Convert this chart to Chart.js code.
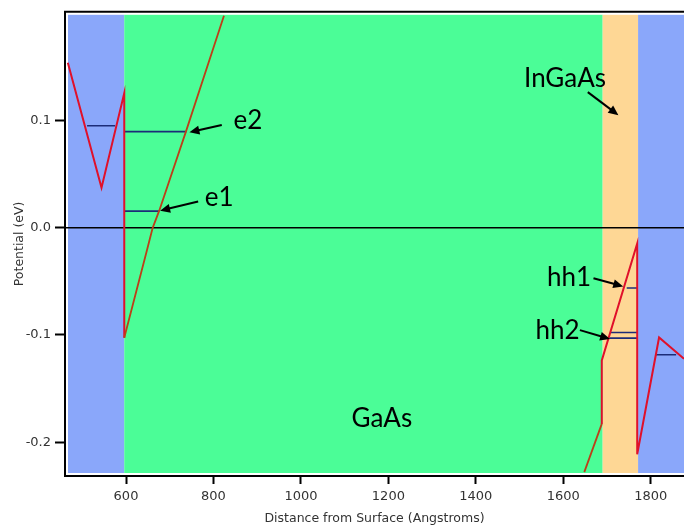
<!DOCTYPE html>
<html>
<head>
<meta charset="utf-8">
<script src="https://cdn.jsdelivr.net/npm/chart.js@4/dist/chart.umd.min.js"></script>
<style>
  html, body { margin: 0; padding: 0; background: #fff; }
  canvas { display: block; }
</style>
</head>
<body>
<canvas id="bandChart" width="684" height="527"></canvas>
<script>
// Potential profile (distance in Angstroms, potential in eV)
const leftBandX = [467, 544, 596, 596, 647, 661, 676, 737, 824];
const leftBandY = [0.154, 0.0375, 0.1257, -0.1026, -0.0224, 0, 0.0160, 0.0898, 0.198];
const rightBandX = [1648, 1688, 1688, 1769, 1769, 1819, 1876];
const rightBandY = [-0.228, -0.183, -0.1238, -0.0147, -0.2113, -0.1023, -0.1222];

// Bound states: energy and the span of each level
const levelY = [0.0953, 0.0898, 0.0156, -0.0562, -0.0977, -0.1029, -0.1185];
const levelStart = [511, 596, 596, 1745, 1709, 1705, 1811];
const levelEnd = [575, 738, 676, 1769, 1769, 1769, 1858];

// Material layers
const layerEdges = [460.5, 596, 1690, 1771, 1876];
const layerNames = ['AlGaAs', 'GaAs', 'InGaAs', 'AlGaAs'];

const xTicks = [600, 800, 1000, 1200, 1400, 1600, 1800];
const yTicks = [-0.2, -0.1, 0.0, 0.1];

const layerColors = { AlGaAs: '#8aa7fa', GaAs: '#4bfd97', InGaAs: '#fed795' };
const red = '#e0102a';
const brown = '#bc3f18';
const navy = '#1c2c78';

// Text labels with optional arrows, placed in data coordinates
const notes = [
    { text: 'e2', x: 879, y: 0.1002, from: [819, 0.0959], to: [745, 0.0891] },
    { text: 'e1', x: 813, y: 0.0283, from: [765, 0.0246], to: [678, 0.0160] },
    { text: 'InGaAs', x: 1604, y: 0.1389, from: [1656, 0.1266], to: [1726, 0.1051] },
    { text: 'hh1', x: 1613, y: -0.0464, from: [1669, -0.0470], to: [1737, -0.0547] },
    { text: 'hh2', x: 1587, y: -0.0961, from: [1638, -0.0955], to: [1707, -0.1038] },
    { text: 'GaAs', x: 1185, y: -0.1782 }
];

function points(xs, ys) {
    return xs.map((x, i) => ({ x: x, y: ys[i] }));
}

// sloped segments running through the GaAs layer look darker
function inGaAsLayer(ctx) {
    const x0 = ctx.p0.parsed.x, x1 = ctx.p1.parsed.x;
    if (x0 === x1) return false;
    const mid = (x0 + x1) / 2;
    return mid > layerEdges[1] && mid < layerEdges[2];
}

const bandStyle = {
    showLine: true,
    pointRadius: 0,
    borderColor: red,
    borderWidth: 2,
    order: 1,
    segment: {
        borderColor: ctx => inGaAsLayer(ctx) ? brown : red,
        borderWidth: ctx => inGaAsLayer(ctx) ? 1.8 : 2
    }
};

const datasets = [
    { ...bandStyle, data: points(leftBandX, leftBandY) },
    { ...bandStyle, data: points(rightBandX, rightBandY) }
];
levelY.forEach((y, i) => {
    datasets.push({
        showLine: true,
        pointRadius: 0,
        borderColor: navy,
        borderWidth: 1.6,
        order: 2,
        data: [{ x: levelStart[i], y: y }, { x: levelEnd[i], y: y }]
    });
});

// layers, zero line and top frame behind the curves
const backdrop = {
    id: 'backdrop',
    beforeDatasetsDraw(chart) {
        const { ctx, chartArea: a, scales: { x, y } } = chart;
        const inset = 3;
        ctx.save();
        layerNames.forEach((name, i) => {
            const x0 = Math.max(x.getPixelForValue(layerEdges[i]), a.left + inset);
            const x1 = Math.min(x.getPixelForValue(layerEdges[i + 1]), a.right);
            ctx.fillStyle = layerColors[name];
            ctx.fillRect(x0, a.top + inset, x1 - x0, a.bottom - a.top - 2 * inset);
        });
        ctx.strokeStyle = '#000';
        ctx.lineWidth = 1.5;
        const y0 = y.getPixelForValue(0);
        ctx.beginPath();
        ctx.moveTo(a.left, y0);
        ctx.lineTo(a.right, y0);
        ctx.stroke();
        ctx.lineWidth = 2;
        ctx.beginPath();
        ctx.moveTo(a.left - 1, a.top);
        ctx.lineTo(a.right, a.top);
        ctx.stroke();
        ctx.restore();
    }
};

const labels = {
    id: 'labels',
    afterDatasetsDraw(chart) {
        const { ctx, scales: { x, y } } = chart;
        ctx.save();
        ctx.fillStyle = '#000';
        ctx.strokeStyle = '#000';
        ctx.font = '26px Lato';
        ctx.textAlign = 'center';
        ctx.textBaseline = 'middle';
        notes.forEach(n => {
            ctx.fillText(n.text, x.getPixelForValue(n.x), y.getPixelForValue(n.y));
            if (!n.from) return;
            const sx = x.getPixelForValue(n.from[0]), sy = y.getPixelForValue(n.from[1]);
            const ex = x.getPixelForValue(n.to[0]), ey = y.getPixelForValue(n.to[1]);
            const ang = Math.atan2(ey - sy, ex - sx);
            const head = 10;
            ctx.lineWidth = 2;
            ctx.beginPath();
            ctx.moveTo(sx, sy);
            ctx.lineTo(ex - Math.cos(ang) * head * 0.8, ey - Math.sin(ang) * head * 0.8);
            ctx.stroke();
            ctx.beginPath();
            ctx.moveTo(ex, ey);
            ctx.lineTo(ex - head * Math.cos(ang) + 4.5 * Math.sin(ang), ey - head * Math.sin(ang) - 4.5 * Math.cos(ang));
            ctx.lineTo(ex - head * Math.cos(ang) - 4.5 * Math.sin(ang), ey - head * Math.sin(ang) + 4.5 * Math.cos(ang));
            ctx.closePath();
            ctx.fill();
        });
        ctx.restore();
    }
};

const tickFont = { family: 'DejaVu Sans', size: 13 };
const titleFont = { family: 'DejaVu Sans', size: 12.5 };

new Chart(document.getElementById('bandChart'), {
    type: 'scatter',
    data: { datasets: datasets },
    options: {
        responsive: false,
        animation: false,
        devicePixelRatio: 1,
        layout: { padding: { top: 7, right: 0, left: 0, bottom: 0 } },
        plugins: {
            legend: { display: false },
            tooltip: { enabled: false }
        },
        scales: {
            x: {
                type: 'linear',
                min: 460.5,
                max: 1876,
                afterBuildTicks: scale => { scale.ticks = xTicks.map(v => ({ value: v })); },
                afterFit: scale => { scale.height = 51; },
                ticks: { font: tickFont, color: '#333', padding: 5, autoSkip: false, maxRotation: 0, callback: v => String(v) },
                grid: { drawOnChartArea: false, tickLength: 8, tickColor: '#000', tickWidth: 2 },
                border: { color: '#000', width: 2 },
                title: {
                    display: true,
                    text: 'Distance from Surface (Angstroms)',
                    font: titleFont,
                    color: '#333',
                    padding: { top: 0, bottom: 1 }
                }
            },
            y: {
                min: -0.2316,
                max: 0.2016,
                afterBuildTicks: scale => { scale.ticks = yTicks.map(v => ({ value: v })); },
                afterFit: scale => { scale.width = 65; },
                ticks: { font: tickFont, color: '#333', padding: 4, callback: v => v.toFixed(1) },
                grid: { drawOnChartArea: false, tickLength: 10, tickColor: '#000', tickWidth: 2 },
                border: { color: '#000', width: 2 },
                title: {
                    display: true,
                    text: 'Potential (eV)',
                    font: titleFont,
                    color: '#333',
                    padding: { top: 12, bottom: 0 }
                }
            }
        }
    },
    plugins: [backdrop, labels]
});
</script>
</body>
</html>
